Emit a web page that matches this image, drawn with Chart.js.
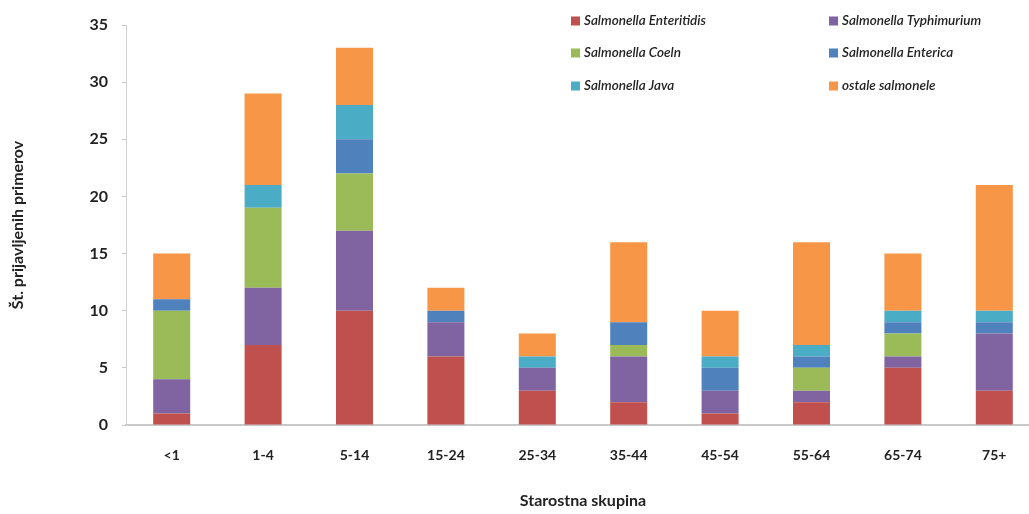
<!DOCTYPE html>
<html>
<head>
<meta charset="utf-8">
<script src="https://cdn.jsdelivr.net/npm/chart.js@4/dist/chart.umd.min.js"></script>
<style>
  html, body { margin: 0; padding: 0; background: #fff; overflow: hidden; }
  #wrap { position: relative; width: 1040px; height: 514px; }
</style>
</head>
<body>
<div id="wrap"><canvas id="salmChart"></canvas></div>
<script>
// age groups
const groups = ['<1', '1-4', '5-14', '15-24', '25-34', '35-44', '45-54', '55-64', '65-74', '75+'];

// reported cases per serotype
const enteritidis = [1, 7, 10, 6, 3, 2, 1, 2, 5, 3];
const typhimurium = [3, 5, 7, 3, 2, 4, 2, 1, 1, 5];
const coeln       = [6, 7, 5, 0, 0, 1, 0, 2, 2, 0];
const enterica    = [1, 0, 3, 1, 0, 2, 2, 1, 1, 1];
const java        = [0, 2, 3, 0, 1, 0, 1, 1, 1, 1];
const ostale      = [4, 8, 5, 2, 2, 7, 4, 9, 5, 11];

const yTicks = [0, 5, 10, 15, 20, 25, 30, 35];

let red = '#C0504D';
let purple = '#8064A2';
let green = '#9BBB59';
let blue = '#4F81BD';
let cyan = '#4BACC6';
let orange = '#F79646';

const series = [
  { label: 'Salmonella Enteritidis', data: enteritidis, color: red },
  { label: 'Salmonella Typhimurium', data: typhimurium, color: purple },
  { label: 'Salmonella Coeln', data: coeln, color: green },
  { label: 'Salmonella Enterica', data: enterica, color: blue },
  { label: 'Salmonella Java', data: java, color: cyan },
  { label: 'ostale salmonele', data: ostale, color: orange },
];

// legend in two columns at the top right
const legendBox = {
  id: 'legendBox',
  afterDraw(chart) {
    const ctx = chart.ctx;
    const cols = [571, 829];
    const rows = [21, 53, 86];
    ctx.save();
    ctx.font = 'italic 600 13.5px Lato';
    ctx.textBaseline = 'middle';
    series.forEach((s, i) => {
      const x = cols[i % 2];
      const y = rows[Math.floor(i / 2)];
      ctx.fillStyle = s.color;
      ctx.fillRect(x, y - 4.5, 9, 9);
      ctx.fillStyle = '#222';
      ctx.fillText(s.label, x + 13, y);
    });
    ctx.restore();
  }
};

const data = {
  labels: groups,
  datasets: series.map(s => ({
    label: s.label,
    data: s.data,
    backgroundColor: s.color,
    borderWidth: 0,
    barPercentage: 0.405,
    categoryPercentage: 1,
  }))
};

const config = {
  type: 'bar',
  data,
  options: {
    responsive: true,
    maintainAspectRatio: false,
    animation: false,
    layout: { padding: { top: 25, right: 0, left: 0, bottom: 0 } },
    plugins: {
      legend: { display: false },
      tooltip: { enabled: false },
    },
    scales: {
      x: {
        stacked: true,
        grid: { display: false, drawTicks: false },
        border: { color: '#c8c8c8', width: 2, dash: [2, 1] },
        ticks: {
          color: '#222',
          font: { family: 'Lato', size: 14, weight: 'bold' },
          padding: 22,
        },
        title: {
          display: true,
          text: 'Starostna skupina',
          color: '#222',
          font: { family: 'Lato', size: 16, weight: 'bold' },
          padding: { top: 22, bottom: 4 },
        },
        afterFit(scale) { scale.height = 89; },
      },
      y: {
        stacked: true,
        min: 0,
        max: 35,
        afterBuildTicks(scale) { scale.ticks = yTicks.map(v => ({ value: v })); },
        grid: { display: true, drawOnChartArea: false, tickLength: 4, color: '#c8c8c8' },
        border: { color: '#d0d0d0', width: 1 },
        ticks: {
          color: '#222',
          font: { family: 'Lato', size: 16, weight: 'bold' },
          padding: 14,
        },
        title: {
          display: true,
          text: 'Št. prijavljenih primerov',
          color: '#222',
          font: { family: 'Lato', size: 16, weight: 'bold' },
          padding: { top: 8, bottom: 0 },
        },
        afterFit(scale) { scale.width = 126; },
      }
    }
  },
  plugins: [legendBox]
};

const myChart = new Chart(
  document.getElementById('salmChart'),
  config
);
</script>
</body>
</html>
